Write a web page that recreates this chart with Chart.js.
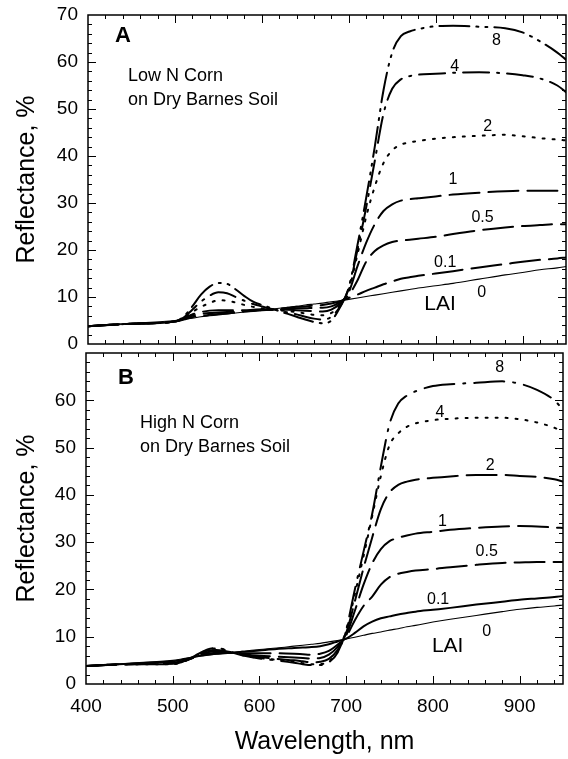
<!DOCTYPE html>
<html>
<head>
<meta charset="utf-8">
<script src="https://cdn.jsdelivr.net/npm/chart.js@4.4.1/dist/chart.umd.min.js"></script>
<style>
  body { margin: 0; background: #fff; }
  #wrap { position: relative; width: 568px; height: 759px; }
  canvas { position: absolute; left: 0; }
</style>
</head>
<body>
<div id="wrap">
  <canvas id="lowN" width="568" height="349" style="top:0"></canvas>
  <canvas id="highN" width="568" height="410" style="top:349px"></canvas>
</div>
<script>
// LAI classes shown in both panels
const laiLevels = ['0', '0.1', '0.5', '1', '2', '4', '8'];

// Panel A: low N corn, reflectance (%) by wavelength (nm)
const wlLow = [400, 450, 500, 510, 520, 530, 540, 550, 560, 570, 580, 590, 600, 610, 620, 630, 640, 650, 660, 670, 680, 690,
  700, 710, 720, 730, 740, 750, 760, 770, 780, 800, 820, 850, 880, 900, 920, 940, 950];
const lowN0 = [3.8, 4.4, 5.0, 5.3, 5.5, 5.8, 6.0, 6.2, 6.4, 6.6, 6.8, 7.0, 7.2, 7.4, 7.6, 7.8, 8.0, 8.3, 8.5, 8.7, 9.0, 9.2,
  9.5, 9.8, 10.1, 10.4, 10.7, 11.0, 11.3, 11.6, 11.9, 12.4, 12.9, 13.8, 14.7, 15.2, 15.8, 16.2, 16.5];
const lowN01 = [3.8, 4.3, 4.8, 5.2, 5.7, 6.0, 6.2, 6.4, 6.5, 6.7, 6.9, 7.0, 7.2, 7.3, 7.5, 7.7, 7.9, 8.0, 8.2, 8.3, 8.6, 9.1,
  9.8, 10.5, 11.3, 12.0, 12.7, 13.3, 13.9, 14.2, 14.5, 15.0, 15.5, 16.3, 17.0, 17.5, 17.9, 18.2, 18.4];
const lowN05 = [3.8, 4.3, 4.8, 5.3, 6.0, 6.4, 6.6, 6.7, 6.8, 6.9, 7.0, 7.1, 7.3, 7.3, 7.4, 7.5, 7.6, 7.6, 7.7, 7.7, 8.0, 8.9,
  10.4, 13.5, 17.5, 19.8, 21.0, 21.7, 22.0, 22.2, 22.4, 22.8, 23.4, 24.2, 24.8, 25.1, 25.3, 25.5, 25.5];
const lowN1 = [3.8, 4.3, 4.8, 5.4, 6.3, 6.8, 7.1, 7.2, 7.2, 7.2, 7.2, 7.3, 7.4, 7.3, 7.3, 7.3, 7.2, 7.1, 7.0, 6.9, 7.3, 8.6,
  11.0, 16.5, 21.5, 25.5, 28.3, 29.7, 30.5, 30.8, 31.0, 31.4, 31.8, 32.2, 32.5, 32.6, 32.6, 32.6, 32.6];
const lowN2 = [3.8, 4.3, 4.8, 5.5, 6.8, 7.9, 8.7, 9.3, 9.2, 8.8, 8.3, 7.9, 7.6, 7.4, 7.2, 7.0, 6.8, 6.5, 6.2, 6.1, 6.6, 8.3,
  11.5, 19.0, 27.0, 33.5, 38.5, 41.2, 42.4, 42.9, 43.2, 43.7, 44.0, 44.3, 44.5, 44.2, 43.8, 43.5, 43.3];
const lowN4 = [3.8, 4.3, 4.8, 5.6, 7.3, 9.0, 10.3, 11.0, 10.8, 10.0, 9.2, 8.5, 8.0, 7.5, 7.1, 6.7, 6.3, 5.8, 5.4, 5.2, 5.8, 8.0,
  11.8, 20.0, 29.0, 39.0, 49.0, 54.3, 56.3, 57.0, 57.3, 57.5, 57.7, 57.8, 57.6, 57.2, 56.5, 55.0, 53.6];
const lowN8 = [3.8, 4.3, 4.8, 5.8, 8.0, 10.5, 12.2, 13.0, 12.8, 11.6, 10.2, 9.0, 8.3, 7.7, 7.0, 6.4, 5.8, 5.2, 4.7, 4.4, 5.0, 7.8,
  12.0, 21.0, 31.0, 42.0, 54.0, 62.0, 65.5, 66.5, 67.0, 67.6, 67.7, 67.5, 67.2, 66.3, 64.4, 62.0, 60.5];

// Panel B: high N corn
const wlHigh = [400, 450, 500, 510, 520, 530, 540, 550, 560, 570, 580, 600, 620, 640, 650, 660, 670, 680, 690,
  700, 710, 720, 730, 740, 750, 760, 770, 780, 800, 820, 850, 880, 900, 920, 940, 950];
const highN0 = [3.8, 4.4, 5.0, 5.3, 5.6, 5.9, 6.1, 6.3, 6.5, 6.7, 6.9, 7.3, 7.6, 8.0, 8.2, 8.4, 8.6, 8.9, 9.2,
  9.5, 9.9, 10.3, 10.7, 11.0, 11.4, 11.7, 12.1, 12.4, 13.1, 13.7, 14.5, 15.3, 15.8, 16.2, 16.5, 16.7];
const highN01 = [3.8, 4.3, 4.8, 5.1, 5.5, 5.9, 6.2, 6.4, 6.5, 6.6, 6.8, 7.1, 7.4, 7.6, 7.7, 7.8, 8.0, 8.4, 9.0,
  9.6, 10.8, 12.2, 13.2, 13.9, 14.3, 14.7, 15.0, 15.3, 15.7, 16.1, 16.8, 17.4, 17.8, 18.1, 18.4, 18.6];
const highN05 = [3.8, 4.2, 4.5, 4.8, 5.3, 6.0, 6.4, 6.6, 6.7, 6.6, 6.5, 6.5, 6.5, 6.4, 6.3, 6.2, 6.4, 7.0, 8.3,
  10.0, 13.5, 16.5, 18.5, 21.0, 22.6, 23.3, 23.7, 24.0, 24.3, 24.7, 25.2, 25.6, 25.7, 25.8, 25.8, 25.8];
const highN1 = [3.8, 4.2, 4.4, 4.7, 5.3, 6.1, 6.7, 6.9, 6.8, 6.6, 6.3, 6.0, 5.8, 5.6, 5.5, 5.4, 5.5, 6.2, 7.8,
  10.3, 15.5, 21.0, 25.5, 28.5, 30.2, 30.9, 31.4, 31.8, 32.2, 32.6, 33.0, 33.3, 33.4, 33.3, 33.1, 33.0];
const highN2 = [3.8, 4.2, 4.3, 4.6, 5.3, 6.2, 7.0, 7.2, 7.0, 6.6, 6.2, 5.7, 5.3, 5.0, 4.8, 4.6, 4.7, 5.3, 7.2,
  10.8, 17.5, 24.5, 31.0, 37.0, 40.5, 42.1, 42.8, 43.2, 43.6, 43.9, 44.2, 44.2, 44.0, 43.8, 43.3, 42.8];
const highN4 = [3.8, 4.2, 4.2, 4.6, 5.3, 6.3, 7.2, 7.5, 7.2, 6.6, 6.1, 5.5, 5.1, 4.7, 4.4, 4.2, 4.2, 4.8, 6.8,
  11.2, 19.0, 27.0, 35.5, 44.0, 50.5, 53.0, 54.4, 55.1, 55.8, 56.1, 56.3, 56.3, 56.0, 55.3, 54.2, 53.3];
const highN8 = [3.8, 4.2, 4.2, 4.6, 5.4, 6.4, 7.3, 7.6, 7.3, 6.6, 6.1, 5.4, 5.0, 4.5, 4.2, 4.0, 4.0, 4.6, 6.6,
  11.5, 20.0, 28.0, 36.0, 46.0, 55.0, 59.3, 61.0, 61.9, 63.0, 63.4, 63.7, 64.0, 63.5, 62.2, 60.0, 58.0];

const xTicks = [400, 500, 600, 700, 800, 900];

const FONT = "'Liberation Sans', Arial, Helvetica, sans-serif";
Chart.defaults.font.family = FONT;
Chart.defaults.color = '#000';

// line styles per LAI level (order matches laiLevels)
const longDash = [30, 9];
const lowStyles = [
  { width: 1.1, dash: [] },
  { width: 2, dash: longDash },
  { width: 2, dash: longDash },
  { width: 2, dash: longDash },
  { width: 2, dash: [2, 8] },
  { width: 2, dash: [26, 8, 2, 8] },
  { width: 2, dash: [30, 7, 2, 7, 2, 7] }
];
const highStyles = [
  { width: 1.1, dash: [] },
  { width: 2, dash: [] },
  { width: 2, dash: longDash },
  { width: 2, dash: longDash },
  { width: 2, dash: longDash },
  { width: 2, dash: [2, 8] },
  { width: 2, dash: [30, 9, 2, 9] }
];

function buildDatasets(wl, series, styles) {
  return series.map((vals, i) => ({
    label: 'LAI ' + laiLevels[i],
    data: wl.map((w, k) => ({ x: w, y: vals[k] })),
    borderColor: '#000',
    borderWidth: styles[i].width,
    borderDash: styles[i].dash,
    borderCapStyle: 'round',
    pointRadius: 0,
    cubicInterpolationMode: 'monotone',
    fill: false
  }));
}

// box around the plot with inward ticks on all four sides
const framePlugin = {
  id: 'frame',
  afterDatasetsDraw(chart) {
    const { ctx, chartArea: a, scales: { x, y } } = chart;
    ctx.save();
    ctx.strokeStyle = '#000';
    ctx.lineWidth = 1.5;
    ctx.strokeRect(a.left, a.top, a.right - a.left, a.bottom - a.top);
    ctx.lineWidth = 1;
    ctx.beginPath();
    for (let v = 420; v < 950; v += 20) {
      const px = Math.round(x.getPixelForValue(v)) + 0.5;
      const len = v % 100 === 0 ? 8 : 4;
      ctx.moveTo(px, a.bottom); ctx.lineTo(px, a.bottom - len);
      ctx.moveTo(px, a.top); ctx.lineTo(px, a.top + len);
    }
    for (let v = 2; v < 70; v += 2) {
      const py = Math.round(y.getPixelForValue(v)) + 0.5;
      const len = v % 10 === 0 ? 8 : 4;
      ctx.moveTo(a.left, py); ctx.lineTo(a.left + len, py);
      ctx.moveTo(a.right, py); ctx.lineTo(a.right - len, py);
    }
    ctx.stroke();
    ctx.restore();
  }
};

// panel letter, caption and curve labels
function notesPlugin(letter, caption, curveLabels) {
  return {
    id: 'notes',
    afterDatasetsDraw(chart) {
      const { ctx, chartArea: a, scales: { x, y } } = chart;
      ctx.save();
      ctx.fillStyle = '#000';
      ctx.textBaseline = 'middle';
      ctx.textAlign = 'left';
      ctx.font = 'bold 22px ' + FONT;
      ctx.fillText(letter.text, a.left + letter.dx, a.top + letter.dy);
      ctx.font = '18px ' + FONT;
      caption.lines.forEach((t, i) => {
        ctx.fillText(t, a.left + caption.dx, a.top + caption.dy + i * 24);
      });
      ctx.textAlign = 'center';
      curveLabels.forEach(l => {
        ctx.font = (l.size || 16) + 'px ' + FONT;
        ctx.fillText(l.text, x.getPixelForValue(l.x), y.getPixelForValue(l.y));
      });
      ctx.restore();
    }
  };
}

function makeChart(canvasId, wl, series, styles, opts) {
  return new Chart(document.getElementById(canvasId), {
    type: 'line',
    data: { datasets: buildDatasets(wl, series, styles) },
    options: {
      responsive: false,
      animation: false,
      layout: { padding: opts.padding },
      plugins: { legend: { display: false }, tooltip: { enabled: false } },
      scales: {
        x: {
          type: 'linear',
          min: 400,
          max: 950,
          display: opts.showX,
          grid: { display: false, drawTicks: false },
          border: { display: false },
          afterBuildTicks: s => { s.ticks = xTicks.map(v => ({ value: v })); },
          afterFit: s => {
            s.height = opts.showX ? 75 : 0;
            s.paddingLeft = 0;
            s.paddingRight = 0;
          },
          ticks: { font: { size: 19 }, padding: 11, color: '#000' },
          title: { display: true, text: 'Wavelength, nm', font: { size: 25 }, padding: { top: 0, bottom: 2 }, color: '#000' }
        },
        y: {
          min: 0,
          max: 70,
          grid: { display: false, drawTicks: false },
          border: { display: false },
          afterBuildTicks: s => {
            s.ticks = [0, 10, 20, 30, 40, 50, 60, 70].filter(v => v <= opts.topLabel).map(v => ({ value: v }));
          },
          afterFit: s => {
            s.width = opts.yWidth;
            s.paddingTop = 0;
            s.paddingBottom = 0;
          },
          ticks: { font: { size: 19 }, padding: 10, color: '#000' },
          title: { display: true, text: 'Reflectance, %', font: { size: 25 }, padding: { top: 12, bottom: 0 }, color: '#000' }
        }
      }
    },
    plugins: [framePlugin, opts.notes]
  });
}

makeChart('lowN', wlLow, [lowN0, lowN01, lowN05, lowN1, lowN2, lowN4, lowN8], lowStyles, {
  padding: { top: 15, bottom: 5, right: 2, left: 0 },
  showX: false,
  yWidth: 88,
  topLabel: 70,
  notes: notesPlugin(
    { text: 'A', dx: 27, dy: 21 },
    { lines: ['Low N Corn', 'on Dry Barnes Soil'], dx: 40, dy: 61 },
    [
      { text: '8', x: 870, y: 64.5 },
      { text: '4', x: 822, y: 59.0 },
      { text: '2', x: 860, y: 46.2 },
      { text: '1', x: 820, y: 34.9 },
      { text: '0.5', x: 854, y: 26.8 },
      { text: '0.1', x: 811, y: 17.4 },
      { text: '0', x: 853, y: 10.9 },
      { text: 'LAI', x: 805, y: 8.5, size: 21 }
    ]
  )
});

makeChart('highN', wlHigh, [highN0, highN01, highN05, highN1, highN2, highN4, highN8], highStyles, {
  padding: { top: 4, bottom: 0, right: 5, left: 0 },
  showX: true,
  yWidth: 86,
  topLabel: 60,
  notes: notesPlugin(
    { text: 'B', dx: 32, dy: 25 },
    { lines: ['High N Corn', 'on Dry Barnes Soil'], dx: 54, dy: 70 },
    [
      { text: '8', x: 877, y: 66.9 },
      { text: '4', x: 808, y: 57.4 },
      { text: '2', x: 866, y: 46.2 },
      { text: '1', x: 811, y: 34.3 },
      { text: '0.5', x: 862, y: 28.0 },
      { text: '0.1', x: 806, y: 17.8 },
      { text: '0', x: 862, y: 11.0 },
      { text: 'LAI', x: 817, y: 8.0, size: 21 }
    ]
  )
});
</script>
</body>
</html>
